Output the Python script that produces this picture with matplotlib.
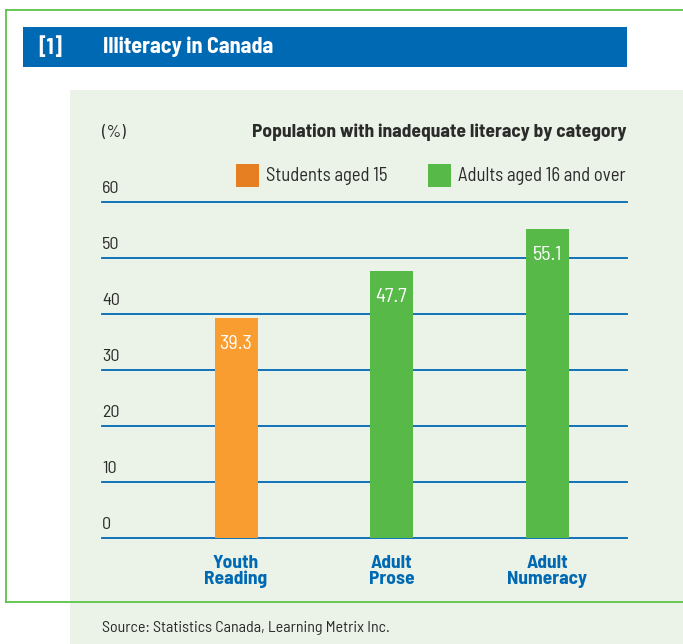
import matplotlib
matplotlib.use("Agg")
import matplotlib.pyplot as plt
from matplotlib.patches import Rectangle
from matplotlib.transforms import blended_transform_factory as btf

categories = ["Youth\nReading", "Adult\nProse", "Adult\nNumeracy"]
values = [39.3, 47.7, 55.1]
series = ["Students aged 15", "Adults aged 16 and over", "Adults aged 16 and over"]
yticks = [0, 10, 20, 30, 40, 50, 60]
legend_labels = ["Students aged 15", "Adults aged 16 and over"]

W, H = 683, 644
fig = plt.figure(figsize=(W / 100, H / 100), dpi=100)
fig.patch.set_facecolor("white")

fam = ["Barlow Semi Condensed", "DejaVu Sans"]
plt.rcParams["font.family"] = fam

BLUE = "#0069B4"
GREEN = "#57B947"
ORANGE = "#F99D31"
ORANGE_LEG = "#E67E22"
PANEL = "#EBF3E8"
BORDER = "#5DC24A"
TEXT = "#2B2B2B"


def fx(x):
    return x / W


def fy(y):
    return 1 - y / H


# panel background
fig.patches.append(Rectangle((fx(70), fy(644)), fx(683 - 70), (644 - 90) / H,
                             transform=fig.transFigure, facecolor=PANEL, edgecolor="none", zorder=0))
# green border (open at right)
fig.add_artist(plt.Line2D([fx(6), fx(6)], [fy(10), fy(602)], color=BORDER, lw=1.3, transform=fig.transFigure, zorder=1))
fig.add_artist(plt.Line2D([fx(6), 1], [fy(10), fy(10)], color=BORDER, lw=1.3, transform=fig.transFigure, zorder=1))
fig.add_artist(plt.Line2D([fx(6), 1], [fy(602), fy(602)], color=BORDER, lw=1.3, transform=fig.transFigure, zorder=1))
# title bar
fig.patches.append(Rectangle((fx(23), fy(67)), fx(627 - 23), 40 / H,
                             transform=fig.transFigure, facecolor=BLUE, edgecolor="none", zorder=2))
fig.text(fx(38), fy(47), "[1]", color="white", fontsize=16, fontweight="bold", va="center", ha="left", zorder=3)
fig.text(fx(103), fy(47), "Illiteracy in Canada", color="white", fontsize=16, fontweight="bold",
         va="center", ha="left", zorder=3)

# axes
ax = fig.add_axes([fx(102), fy(538), fx(627 - 102), (538 - 202) / H])
ax.set_zorder(5)
ax.set_facecolor("none")
for s in ax.spines.values():
    s.set_visible(False)
ax.set_xlim(-0.862, 2.514)
ax.set_ylim(0, 60)
ax.set_yticks([])

trans_y = btf(ax.transAxes, ax.transData)
for t in yticks:
    ax.axhline(t, color=BLUE, lw=1.3, zorder=1, clip_on=False)
    ax.annotate(f"{t}", xy=(0, t), xycoords=trans_y, xytext=(0, 4), textcoords="offset points",
                ha="left", va="bottom", fontsize=13, color=TEXT)

colors = [ORANGE if s == legend_labels[0] else GREEN for s in series]
xs = list(range(len(categories)))
ax.bar(xs, values, width=0.277, color=colors, zorder=2)
for x, v in zip(xs, values):
    ax.annotate(f"{v}", xy=(x, v), xytext=(0, -18.5), textcoords="offset points",
                ha="center", va="center", color="white", fontsize=14.5, zorder=3)

ax.set_xticks(xs)
ax.set_xticklabels(categories, fontsize=14, fontweight="bold", color=BLUE, linespacing=0.95)
ax.tick_params(axis="x", length=0, pad=12)

# header texts
fig.text(fx(102), fy(132), "(%)", fontsize=13, color=TEXT, va="center", ha="left")
fig.text(fx(627), fy(132), "Population with inadequate literacy by category", fontsize=14,
         fontweight="bold", color=TEXT, va="center", ha="right")

# legend
leg_x = [236, 428]
leg_cols = [ORANGE_LEG, GREEN]
for lx, lc, lab in zip(leg_x, leg_cols, legend_labels):
    fig.patches.append(Rectangle((fx(lx), fy(187)), fx(23), 23 / H, transform=fig.transFigure,
                                 facecolor=lc, edgecolor="none", zorder=3))
    fig.text(fx(lx + 30), fy(176), lab, fontsize=13.4, color=TEXT, va="center", ha="left")

fig.text(fx(102), fy(628), "Source: Statistics Canada, Learning Metrix Inc.", fontsize=11.5,
         color=TEXT, va="center", ha="left")

fig.savefig("out.png", dpi=100)
